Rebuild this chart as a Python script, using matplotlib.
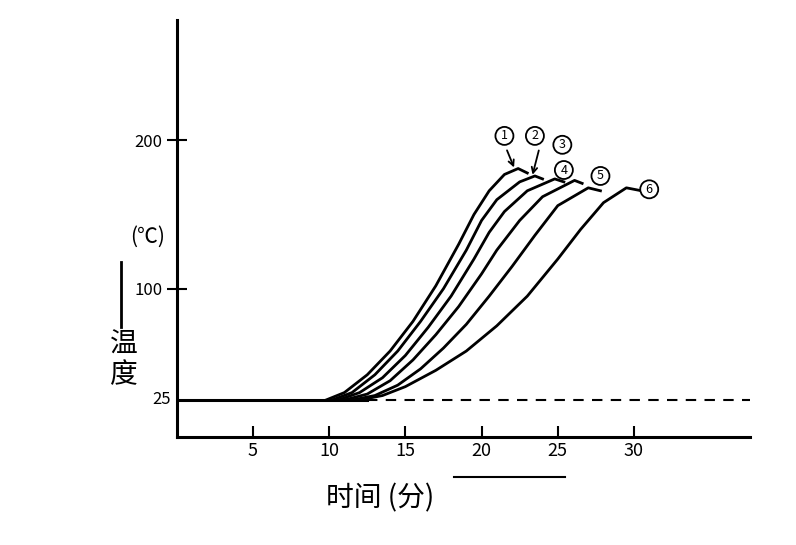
import matplotlib.pyplot as plt

plt.rcParams['font.family'] = ['Noto Sans CJK SC', 'DejaVu Sans']

# curves: time (min) and temperature (C)
t1 = [9.8, 11, 12.5, 14, 15.5, 17, 18.5, 19.5, 20.5, 21.5, 22.4, 23.0]
c1 = [25, 30, 42, 58, 78, 102, 130, 150, 166, 177, 181, 178]
t2 = [10.2, 11.5, 13, 14.5, 16, 17.5, 19, 20, 21, 22.5, 23.5, 24.0]
c2 = [25, 30, 42, 58, 78, 100, 126, 146, 160, 172, 176, 174]
t3 = [10.6, 12, 13.5, 15, 16.5, 18, 19.5, 20.5, 21.5, 23, 24.8, 25.4]
c3 = [25, 30, 40, 55, 74, 95, 120, 138, 152, 166, 174, 172]
t4 = [11.0, 12.5, 14, 15.5, 17, 18.5, 20, 21, 22.5, 24, 26.1, 26.6]
c4 = [25, 29, 38, 52, 69, 88, 110, 126, 146, 162, 173, 171]
t5 = [11.5, 13, 14.5, 16, 17.5, 19, 20.5, 22, 23.5, 25, 27.0, 27.8]
c5 = [25, 28, 35, 46, 60, 76, 95, 115, 136, 156, 168, 166]
t6 = [12.0, 13.5, 15, 17, 19, 21, 23, 25, 26.5, 28, 29.5, 30.5]
c6 = [25, 28, 34, 45, 58, 75, 95, 120, 140, 158, 168, 166]
curves = [(t1, c1), (t2, c2), (t3, c3), (t4, c4), (t5, c5), (t6, c6)]
labels = ['1', '2', '3', '4', '5', '6']
xticks = [5, 10, 15, 20, 25, 30]

fig = plt.figure(figsize=(7.96, 5.45), dpi=100)
ax = fig.add_axes([0.222, 0.198, 0.72, 0.765])
ax.set_xlim(0, 37.6)
ax.set_ylim(0, 281)
for s in ['top', 'right']:
    ax.spines[s].set_visible(False)
for s in ['left', 'bottom']:
    ax.spines[s].set_linewidth(2.2)

for t, c in curves:
    ax.plot(t, c, color='black', lw=2)

# baseline at 25: solid then dashed
ax.plot([0, 12.5], [25, 25], color='black', lw=2.2)
ax.plot([12.5, 37.6], [25, 25], color='black', lw=1.5, ls=(0, (5, 4)))

# circled labels
lab_pos = [(21.5, 203), (23.5, 203), (25.3, 197), (25.4, 180), (27.8, 176), (31.0, 167)]
for (t, c), lab, (lx, ly) in zip(curves, labels, lab_pos):
    ax.text(lx, ly, lab, fontsize=9, ha='center', va='center',
            bbox=dict(boxstyle='circle,pad=0.2', fc='white', ec='black', lw=1.3))
ax.annotate('', xy=(22.2, 180), xytext=(21.6, 195),
            arrowprops=dict(arrowstyle='->', lw=1.3))
ax.annotate('', xy=(23.3, 175), xytext=(23.8, 195),
            arrowprops=dict(arrowstyle='->', lw=1.3))

ax.set_xticks(xticks)
ax.set_xticklabels([str(v) for v in xticks], fontsize=13)
ax.tick_params(axis='x', direction='in', length=8, width=1.5)
ax.set_yticks([100, 200])
ax.set_yticklabels(['100', '200'], fontsize=12)
ax.tick_params(axis='y', direction='inout', length=14, width=1.5)
ax.text(-0.4, 25, '25', fontsize=12, ha='right', va='center')

fig.text(0.185, 0.565, '(℃)', fontsize=15, ha='center', va='center')
fig.add_artist(plt.Line2D([0.152, 0.152], [0.40, 0.52], color='black', lw=2))
fig.text(0.155, 0.34, '温\n度', fontsize=20, ha='center', va='center', linespacing=1.0)
fig.text(0.41, 0.085, '时间 (分)', fontsize=20, ha='left', va='center')
fig.add_artist(plt.Line2D([0.57, 0.71], [0.125, 0.125], color='black', lw=1.5))

fig.savefig('out.png', dpi=100)
